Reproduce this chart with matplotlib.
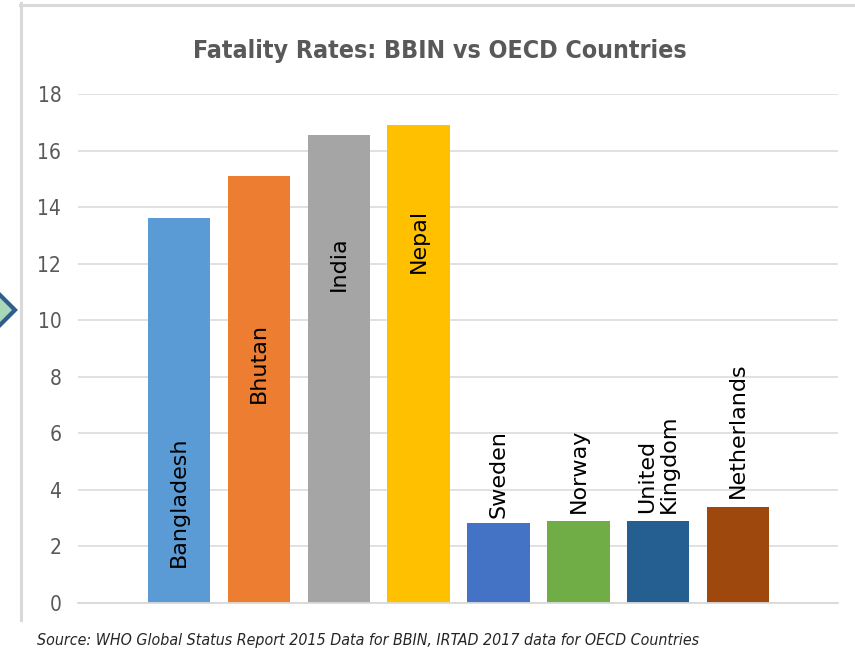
import numpy as np
import matplotlib
matplotlib.use("Agg")
import matplotlib.pyplot as plt
from matplotlib import font_manager
from matplotlib.font_manager import FontProperties
from matplotlib.patches import Polygon
from matplotlib.lines import Line2D

# Fatality Rates: BBIN vs OECD Countries
countries = ["Bangladesh", "Bhutan", "India", "Nepal",
             "Sweden", "Norway", "United\nKingdom", "Netherlands"]
rates = [13.6, 15.1, 16.55, 16.9, 2.82, 2.9, 2.9, 3.4]
label_base = [1.27, 7.07, 11.03, 11.67, 3.0, 3.2, 3.18, 3.7]
y_ticks = [0, 2, 4, 6, 8, 10, 12, 14, 16, 18]
colors = ["#5b9bd5", "#ed7d31", "#a5a5a5", "#ffc000",
          "#4472c4", "#70ad47", "#255e91", "#9e480e"]

title = "Fatality Rates: BBIN vs OECD Countries"
source = "Source: WHO Global Status Report 2015 Data for BBIN, IRTAD 2017 data for OECD Countries"


def pick_font(weight, style):
    # look for a narrow / condensed sans face first, otherwise Lato
    narrow = []
    for f in font_manager.fontManager.ttflist:
        if "Serif" in f.name or "Mono" in f.name:
            continue
        is_narrow = ("Narrow" in f.name or "Condensed" in f.name
                     or f.stretch in ("condensed", "semi-condensed", "extra-condensed"))
        if not is_narrow:
            continue
        w = f.weight if isinstance(f.weight, int) else (700 if "bold" in str(f.weight) else 400)
        if (w >= 600) == (weight == "bold") and f.style in ((style,) if style == "normal" else ("italic", "oblique")):
            narrow.append(f)
    if narrow:
        return FontProperties(fname=narrow[0].fname)
    return FontProperties(family="Lato", weight=weight, style=style)


title_font = pick_font("bold", "normal")
source_font = pick_font("normal", "italic")
tick_font = pick_font("normal", "normal")

W, H = 855, 656
fig = plt.figure(figsize=(W / 100, H / 100), dpi=100)
fig.patch.set_facecolor("white")


def fx(px):
    return px / W


def fy(py):
    return 1 - py / H


def fit_width(txt, target_px):
    # scale font size so the text spans the wanted width
    r = fig.canvas.get_renderer()
    w = txt.get_window_extent(renderer=r).width
    txt.set_fontsize(txt.get_fontsize() * target_px / w)


ax = fig.add_axes([fx(78), (H - 603) / H, 760 / W, 509 / H])

x = np.arange(len(countries))
ax.bar(x, rates, width=0.78, color=colors, zorder=2)

for i, name in enumerate(countries):
    ax.text(x[i], label_base[i], name, rotation=90, ha="center", va="bottom",
            multialignment="left", fontsize=16, color="black",
            family="DejaVu Sans", zorder=3, linespacing=1.1)

ax.set_xlim(-1.264, 8.25)
ax.set_ylim(0, 18)
ax.set_yticks(y_ticks)
ax.set_xticks([])
ax.grid(axis="y", color="#d9d9d9", linewidth=1.1, zorder=0)
for sp in ["top", "right", "left"]:
    ax.spines[sp].set_visible(False)
ax.spines["bottom"].set_color("#d9d9d9")
ax.spines["bottom"].set_linewidth(1.3)
ax.tick_params(axis="y", length=0, pad=12, labelcolor="#595959")
for lab in ax.get_yticklabels():
    lab.set_fontproperties(tick_font)
    lab.set_fontsize(15)

# title and source
t = fig.text(fx(440), fy(58.3), title, ha="center", va="baseline",
             fontproperties=title_font, color="#595959")
t.set_fontsize(22)
fit_width(t, 494)
s = fig.text(fx(37), fy(645), source, ha="left", va="baseline",
             fontproperties=source_font, color="#262626")
s.set_fontsize(13)
fit_width(s, 661)

# chart frame and the arrow tip on the left
fig.add_artist(Line2D([fx(21), fx(21)], [fy(3), fy(620)], color="#d9d9d9", lw=2.2))
fig.add_artist(Line2D([fx(20), fx(W)], [fy(4.5), fy(4.5)], color="#d9d9d9", lw=2.2))
fig.add_artist(Polygon([[fx(-8), fy(287)], [fx(15), fy(310)], [fx(-8), fy(333)]],
                       closed=True, facecolor="#a9d8b8", edgecolor="#2f5d8c", lw=3))

fig.savefig("out.png", dpi=100, facecolor="white")
